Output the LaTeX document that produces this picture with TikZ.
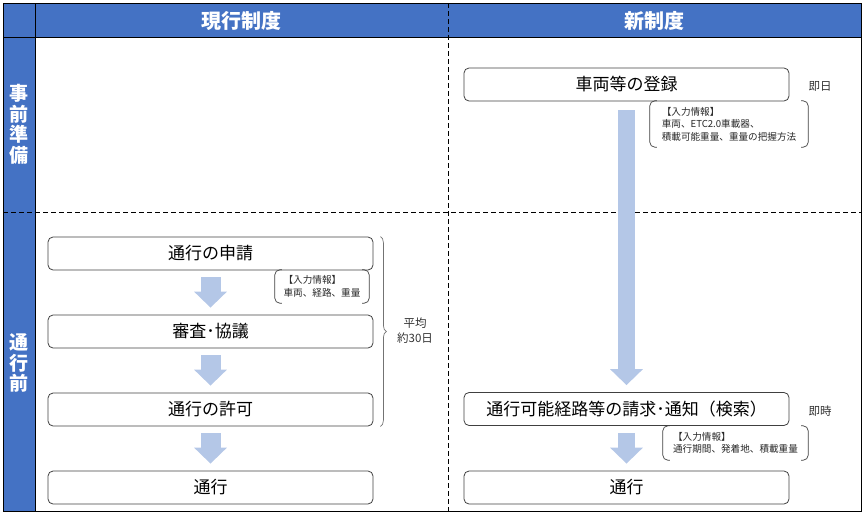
\documentclass[tikz,border=0pt]{standalone}
\usepackage{fontspec}
\setmainfont{Noto Sans CJK JP}
\usetikzlibrary{arrows.meta,decorations.pathreplacing}
\definecolor{hdrblue}{HTML}{4472C4}
\definecolor{arrowblue}{HTML}{B4C7E7}

\begin{document}
\begin{tikzpicture}[x=1pt,y=-1pt,
	flowbox/.style={draw=black!75,line width=0.8pt,rounded corners=5pt,minimum width=325pt,minimum height=33pt,inner sep=0pt,font=\fontsize{17}{20}\selectfont},
	infonote/.style={align=left,inner sep=0pt,text=black!85,font=\fontsize{9.6}{12.5}\selectfont},
	notebracket/.style={draw=black!75,line width=0.7pt,rounded corners=5pt},
	headtext/.style={text=white,font=\fontsize{20}{22}\selectfont\bfseries},
	sidetext/.style={text=white,align=center,font=\fontsize{19}{20.5}\selectfont\bfseries},
	timetext/.style={text=black!80,align=center,font=\fontsize{11.5}{15}\selectfont},
	bigarrow/.style={draw=arrowblue,line width=20pt,-{Triangle[width=32pt,length=16pt]},shorten <=7pt,shorten >=7pt}]
	\useasboundingbox (0,0) rectangle (865,517);
	% table frame
	\fill[hdrblue] (3,3) rectangle (861,37);
	\fill[hdrblue] (3,37) rectangle (35,511);
	\draw[line width=0.9pt] (3,3) rectangle (861,511);
	\draw[line width=0.9pt] (35,3) -- (35,511);
	\draw[line width=0.9pt] (3,37) -- (861,37);
	\draw[line width=0.9pt,dash pattern=on 5pt off 3pt] (448,3) -- (448,511);
	\draw[line width=0.9pt,dash pattern=on 5pt off 3pt] (3,212) -- (861,212);
	\node[headtext] (oldhead) at (241.5,21) {現行制度};
	\node[headtext] (newhead) at (654.5,21) {新制度};
	\node[sidetext] (prepside) at (19,124.5) {事\\前\\準\\備};
	\node[sidetext] (beforeside) at (19,363) {通\\行\\前};
	
	% current system
	\node[flowbox] (shinsei) at (210.5,253.5) {通行の申請};
	\node[flowbox] (shinsa) at (210.5,331.5) {審査･協議};
	\node[flowbox] (kyoka) at (210.5,409.5) {通行の許可};
	\node[flowbox] (tsukoA) at (210.5,487.5) {通行};
	\draw[bigarrow] (shinsei) -- (shinsa);
	\draw[bigarrow] (shinsa) -- (kyoka);
	\draw[bigarrow] (kyoka) -- (tsukoA);
	\node[infonote,minimum width=94pt,minimum height=33pt] (noteA) at (322,286.5) {【入力情報】\\車両、経路、重量};
	\draw[notebracket] ([xshift=7pt]noteA.north west) -- (noteA.north west) -- (noteA.south west) -- ([xshift=7pt]noteA.south west);
	\draw[notebracket] ([xshift=-7pt]noteA.north east) -- (noteA.north east) -- (noteA.south east) -- ([xshift=-7pt]noteA.south east);
	\draw[draw=black!55,line width=0.7pt,decorate,decoration={brace,amplitude=6pt}] ([xshift=7pt]shinsei.north east) -- ([xshift=7pt]kyoka.south east);
	\node[timetext] (heikin) at (415,331) {平均\\約30日};
	
	% new system
	\node[flowbox] (toroku) at (626.5,84.5) {車両等の登録};
	\node[flowbox] (kensaku) at (626.5,409) {通行可能経路等の請求･通知（検索）};
	\node[flowbox] (tsukoB) at (626.5,487.5) {通行};
	\draw[bigarrow,line width=17pt,shorten <=9pt] (toroku) -- (kensaku);
	\draw[bigarrow,line width=17pt] (kensaku) -- (tsukoB);
	\node[timetext] (sokujitsu) at (820,86) {即日};
	\node[timetext] (sokuji) at (820,411) {即時};
	\node[infonote,minimum width=158pt,minimum height=46pt] (noteB) at (729,124) {【入力情報】\\車両、ETC2.0車載器、\\積載可能重量、重量の把握方法};
	\draw[notebracket] ([xshift=7pt]noteB.north west) -- (noteB.north west) -- (noteB.south west) -- ([xshift=7pt]noteB.south west);
	\draw[notebracket] ([xshift=-7pt]noteB.north east) -- (noteB.north east) -- (noteB.south east) -- ([xshift=-7pt]noteB.south east);
	\node[infonote,minimum width=145pt,minimum height=34pt] (noteC) at (735.5,443) {【入力情報】\\通行期間、発着地、積載重量};
	\draw[notebracket] ([xshift=7pt]noteC.north west) -- (noteC.north west) -- (noteC.south west) -- ([xshift=7pt]noteC.south west);
	\draw[notebracket] ([xshift=-7pt]noteC.north east) -- (noteC.north east) -- (noteC.south east) -- ([xshift=-7pt]noteC.south east);
\end{tikzpicture}
\end{document}
